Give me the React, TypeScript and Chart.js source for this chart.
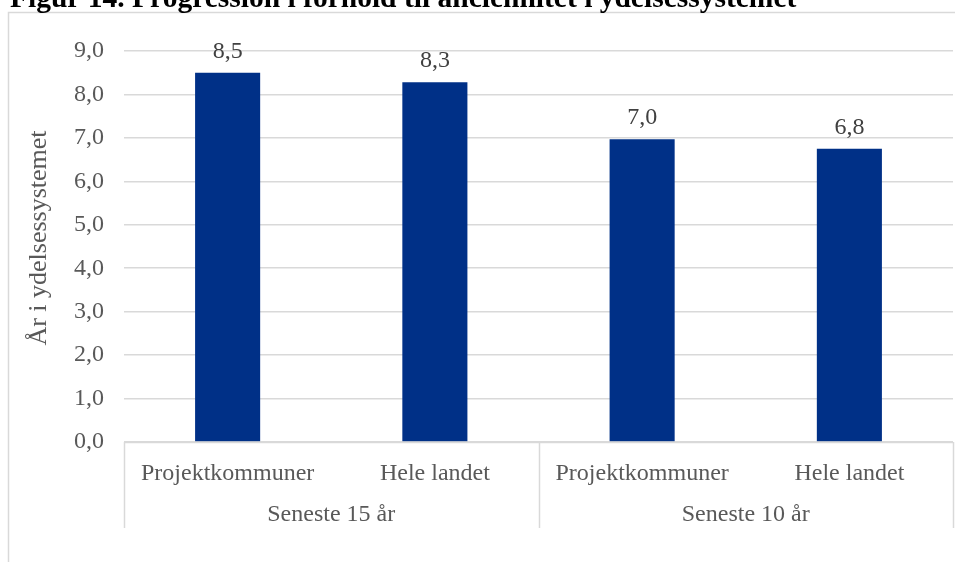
import React, { useEffect, useRef } from "react";
import { Chart, registerables } from "chart.js";

Chart.register(...registerables);

const TITLE = "Figur 14. Progression i forhold til anciennitet i ydelsessystemet";
const Y_TITLE = "År i ydelsessystemet";
const CATEGORIES = ["Projektkommuner", "Hele landet", "Projektkommuner", "Hele landet"];
const GROUPS = ["Seneste 15 år", "Seneste 10 år"];
const GROUP_SIZES = [2, 2];
const VALUES = [8.5, 8.28, 6.97, 6.75];
const Y_MIN = 0;
const Y_MAX = 9;
const Y_STEP = 1;

const FONT = "'Liberation Serif', 'Times New Roman', serif";
const GRID = "#d9d9d9";
const TEXT = "#595959";
const BAR = "#003087";

const fmt = (v: number) => v.toFixed(1).replace(".", ",");

const decor = {
  id: "decor",
  afterDraw(chart: any) {
    const ctx = chart.ctx as CanvasRenderingContext2D;
    const area = chart.chartArea;
    const xs = chart.scales.x;
    const meta = chart.getDatasetMeta(0);
    ctx.save();

    // outer frame (partially visible)
    ctx.strokeStyle = GRID;
    ctx.lineWidth = 1.5;
    ctx.beginPath();
    ctx.moveTo(8.5, 562);
    ctx.lineTo(8.5, 12.5);
    ctx.lineTo(955, 12.5);
    ctx.stroke();

    // title
    ctx.fillStyle = "#000";
    ctx.font = `bold 29.5px ${FONT}`;
    ctx.textAlign = "left";
    ctx.textBaseline = "alphabetic";
    ctx.fillText(TITLE, 10, 7);

    // x axis box
    ctx.strokeStyle = GRID;
    ctx.lineWidth = 1.5;
    ctx.beginPath();
    ctx.moveTo(area.left, area.bottom + 0.5);
    ctx.lineTo(area.right, area.bottom + 0.5);
    ctx.stroke();
    const n = CATEGORIES.length;
    const catW = (area.right - area.left) / n;
    let idx = 0;
    const bounds: number[] = [area.left];
    GROUP_SIZES.forEach((s) => {
      idx += s;
      bounds.push(area.left + idx * catW);
    });
    ctx.beginPath();
    bounds.forEach((bx) => {
      const x = Math.round(bx) + 0.5;
      ctx.moveTo(x, area.bottom);
      ctx.lineTo(x, 528);
    });
    ctx.stroke();

    // category labels
    ctx.fillStyle = TEXT;
    ctx.font = `24px ${FONT}`;
    ctx.textAlign = "center";
    ctx.textBaseline = "alphabetic";
    CATEGORIES.forEach((c, i) => {
      ctx.fillText(c, xs.getPixelForValue(i), 480);
    });
    GROUPS.forEach((g, i) => {
      ctx.fillText(g, (bounds[i] + bounds[i + 1]) / 2, 521);
    });

    // data labels
    ctx.fillStyle = "#404040";
    meta.data.forEach((bar: any, i: number) => {
      ctx.fillText(fmt(VALUES[i]), bar.x, bar.y - 15);
    });

    // y title
    ctx.fillStyle = TEXT;
    ctx.font = `26px ${FONT}`;
    ctx.translate(46, 238);
    ctx.rotate(-Math.PI / 2);
    ctx.textAlign = "center";
    ctx.fillText(Y_TITLE, 0, 0);
    ctx.restore();
  },
};

export default function App() {
  const ref = useRef<HTMLCanvasElement | null>(null);
  useEffect(() => {
    if (!ref.current) return;
    const chart = new Chart(ref.current, {
      type: "bar",
      data: {
        labels: CATEGORIES,
        datasets: [
          {
            data: VALUES,
            backgroundColor: BAR,
            borderWidth: 0,
            categoryPercentage: 1,
            barPercentage: 0.314,
          },
        ],
      },
      options: {
        animation: false,
        responsive: false,
        devicePixelRatio: 1,
        layout: { padding: { left: 0, right: 2, top: 51, bottom: 120 } },
        plugins: { legend: { display: false }, tooltip: { enabled: false }, title: { display: false } },
        scales: {
          x: { display: false },
          y: {
            min: Y_MIN,
            max: Y_MAX,
            border: { display: false },
            grid: { color: GRID, lineWidth: 1.5, drawTicks: false },
            ticks: {
              stepSize: Y_STEP,
              padding: 20,
              color: TEXT,
              font: { family: FONT, size: 24 },
              callback: (v: any) => fmt(Number(v)),
            },
            afterFit: (s: any) => {
              s.width = 124;
            },
          },
        },
      },
      plugins: [decor],
    });
    return () => chart.destroy();
  }, []);
  return (
    <div style={{ position: "absolute", left: 0, top: 0, width: 955, height: 562, background: "#fff" }}>
      <canvas ref={ref} width={955} height={562} style={{ display: "block", width: 955, height: 562 }} />
    </div>
  );
}
